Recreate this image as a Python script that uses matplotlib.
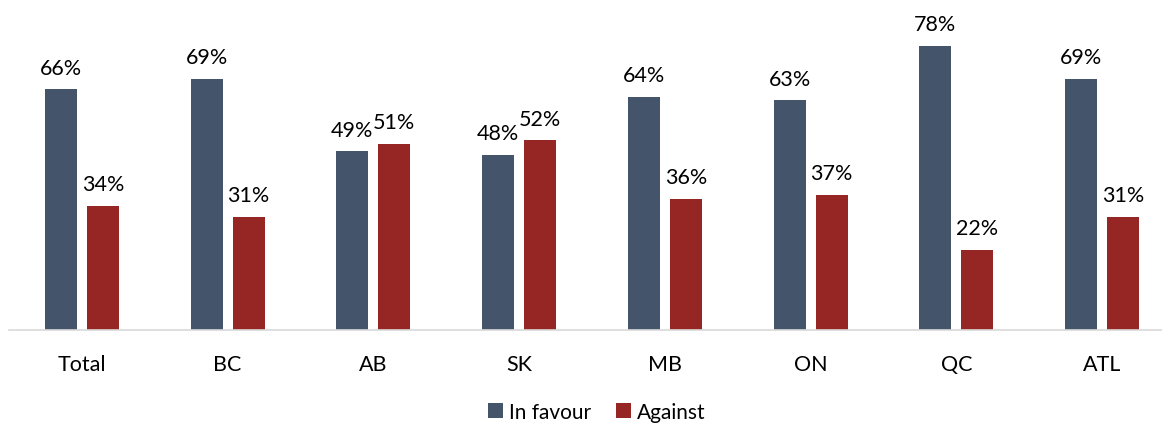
import matplotlib
matplotlib.use("Agg")
import matplotlib.pyplot as plt
import numpy as np

categories = ["Total", "BC", "AB", "SK", "MB", "ON", "QC", "ATL"]
in_favour = [66, 69, 49, 48, 64, 63, 78, 69]
against = [34, 31, 51, 52, 36, 37, 22, 31]

W, H = 1162, 427
fig = plt.figure(figsize=(W/100, H/100), dpi=100)
plt.rcParams['font.family'] = ['Lato', 'DejaVu Sans']
ax = fig.add_axes([9/W, (H-331)/H, 1166/W, 328/H])

x = np.arange(len(categories))
bw = 0.22
off = 0.144
c1, c2 = "#44546A", "#962623"
b1 = ax.bar(x - off, in_favour, bw, color=c1, label="In favour")
b2 = ax.bar(x + off, against, bw, color=c2, label="Against")
for bars, vals in ((b1, in_favour), (b2, against)):
    for r, v in zip(bars, vals):
        ax.text(r.get_x() + r.get_width()/2, v + 4.3, f"{v}%", ha="center",
                va="baseline", fontsize=15.5, color="black")

ax.set_xlim(-0.5, len(categories) - 0.5)
ax.set_ylim(0, 90)
ax.set_xticks(x)
ax.set_xticklabels(categories, fontsize=15.5)
ax.tick_params(axis="x", length=0, pad=17)
ax.set_yticks([])
for s in ["top", "right", "left"]:
    ax.spines[s].set_visible(False)
ax.spines["bottom"].set_color("#D9D9D9")
ax.spines["bottom"].set_linewidth(1.2)

fig.legend(handles=[b1, b2], loc="center", bbox_to_anchor=(597/W, (H-413)/H),
           ncol=2, frameon=False, fontsize=15, handlelength=0.7, handleheight=0.7,
           handletextpad=0.3, columnspacing=1.2)

fig.savefig("out.png", dpi=100)
